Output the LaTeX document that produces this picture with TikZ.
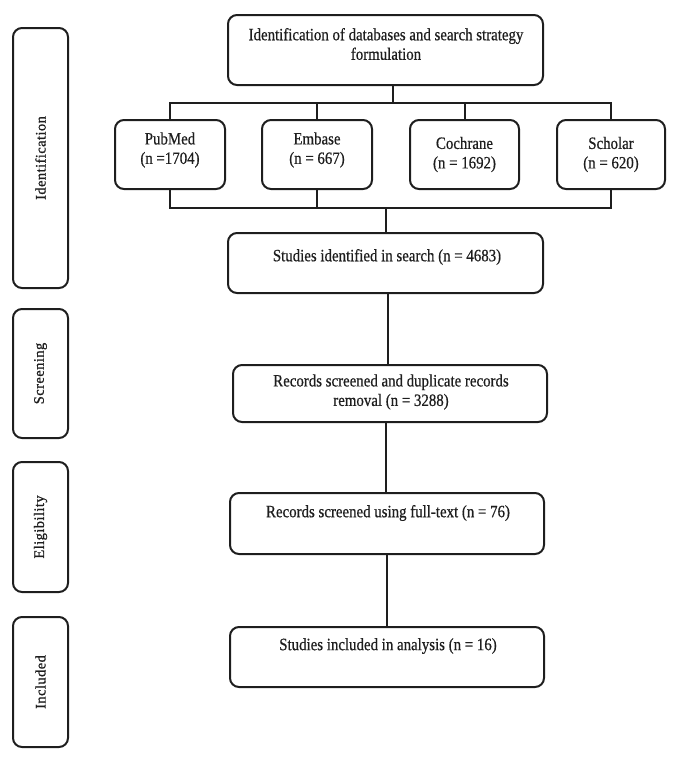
\documentclass[tikz,border=0pt]{standalone}
\usepackage{fontspec}
\setmainfont[FakeStretch=0.86,FakeBold=0.6]{Liberation Serif}
\newfontfamily\sidefont[LetterSpace=3,FakeBold=1]{Liberation Serif}
\definecolor{ink}{HTML}{1E1E1E}
\begin{document}
\begin{tikzpicture}[x=1pt,y=-1pt,
  box/.style={draw=ink,line width=2pt,rounded corners=9pt,inner sep=0pt},
  txt/.style={text=ink,align=center,inner sep=0pt,font=\fontsize{17.3}{19.5}\selectfont},
  side/.style={text=ink,inner sep=0pt,rotate=90,font=\sidefont\fontsize{14.5}{17}\selectfont},
  conn/.style={draw=ink,line width=2pt}]
\useasboundingbox (0,0) rectangle (682,761);
% main boxes
\node[box,minimum width=315pt,minimum height=70pt] (top) at (385.5,50) {};
\node[box,minimum width=110pt,minimum height=69pt] (pub) at (170,154.5) {};
\node[box,minimum width=110pt,minimum height=69pt] (emb) at (317,154.5) {};
\node[box,minimum width=109pt,minimum height=69pt] (coc) at (464.5,154.5) {};
\node[box,minimum width=108pt,minimum height=69pt] (sch) at (611,154.5) {};
\node[box,minimum width=315pt,minimum height=60pt] (stu) at (385.5,263) {};
\node[box,minimum width=314pt,minimum height=57pt] (scr) at (390,393.5) {};
\node[box,minimum width=314pt,minimum height=61pt] (eli) at (387,523.5) {};
\node[box,minimum width=314pt,minimum height=60pt] (inc) at (387,657) {};
% side boxes
\node[box,minimum width=55pt,minimum height=260pt] (sIde) at (40.5,158) {};
\node[box,minimum width=55pt,minimum height=129pt] (sScr) at (40.5,373.5) {};
\node[box,minimum width=55pt,minimum height=130pt] (sEli) at (40.5,527) {};
\node[box,minimum width=55pt,minimum height=130pt] (sInc) at (40.5,682) {};
% texts
\node[txt] (topT) at (386,44) {Identification of databases and search strategy\\formulation};
\node[txt] (pubT) at (170,150) {PubMed\\(n =1704)};
\node[txt] (embT) at (317,150) {Embase\\(n = 667)};
\node[txt] (cocT) at (464.5,154.5) {Cochrane\\(n = 1692)};
\node[txt] (schT) at (611,154.5) {Scholar\\(n = 620)};
\node[txt] (stuT) at (387,257) {Studies identified in search (n = 4683)};
\node[txt] (scrT) at (391,392) {Records screened and duplicate records\\removal (n = 3288)};
\node[txt] (eliT) at (388,513) {Records screened using full-text (n = 76)};
\node[txt] (incT) at (388,646) {Studies included in analysis (n = 16)};
\node[side] (sIdeT) at (sIde.center) {Identification};
\node[side] (sScrT) at (sScr.center) {Screening};
\node[side] (sEliT) at (sEli.center) {Eligibility};
\node[side] (sIncT) at (sInc.center) {Included};
% connectors
\coordinate (t1) at (393,103);
\coordinate (b1) at (386,208);
\coordinate (x1) at (388,0);
\coordinate (x2) at (386,0);
\coordinate (x3) at (387,0);
\draw[conn] (t1 |- top.south) -- (t1);
\draw[conn] (pub.north) -- (pub.north |- t1) -- (sch.north |- t1) -- (sch.north);
\draw[conn] (emb.north) -- (emb.north |- t1);
\draw[conn] (coc.north) -- (coc.north |- t1);
\draw[conn] (pub.south) -- (pub.south |- b1) -- (sch.south |- b1) -- (sch.south);
\draw[conn] (emb.south) -- (emb.south |- b1);
\draw[conn] (b1) -- (b1 |- stu.north);
\draw[conn] (x1 |- stu.south) -- (x1 |- scr.north);
\draw[conn] (x2 |- scr.south) -- (x2 |- eli.north);
\draw[conn] (x3 |- eli.south) -- (x3 |- inc.north);
\end{tikzpicture}
\end{document}
